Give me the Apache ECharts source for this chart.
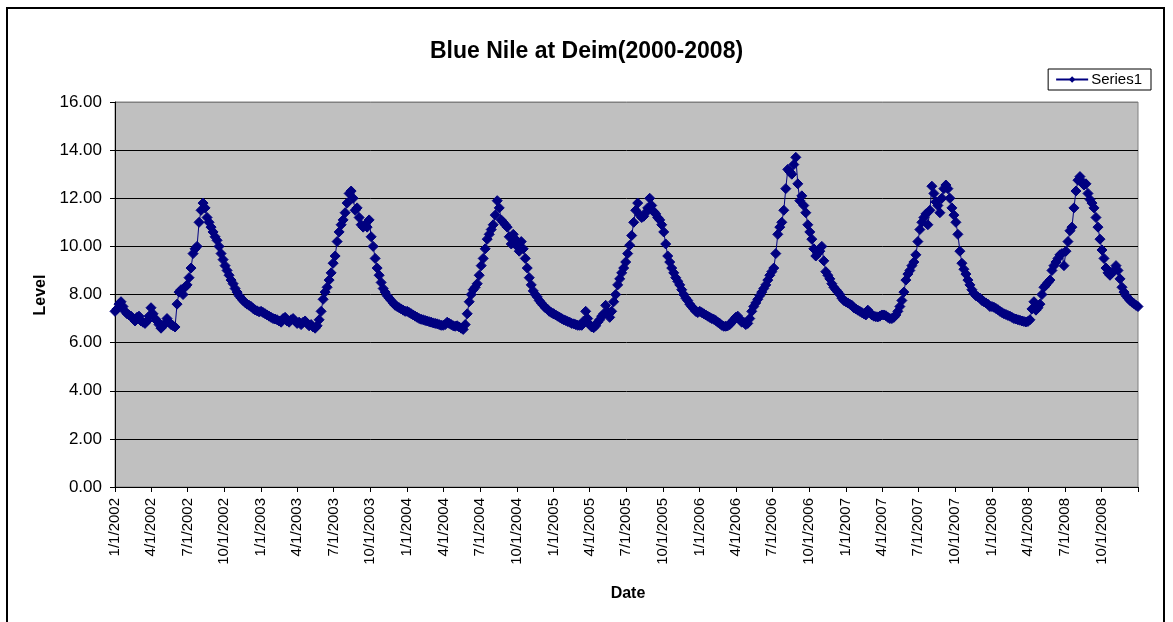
<!DOCTYPE html>
<html><head><meta charset="utf-8">
<script src="https://cdn.jsdelivr.net/npm/echarts@6/dist/echarts.min.js"></script>
<style>html,body{margin:0;padding:0;background:#fff}#c{width:1173px;height:622px}</style>
</head><body><div id="c"></div>
<script>
const chartTitle = 'Blue Nile at Deim(2000-2008)';
const seriesName = 'Series1';
const yAxisName = 'Level';
const xAxisName = 'Date';
const firstDay = [2002, 1, 1];
const lastDay = [2008, 12, 31];
const quarterStarts = ['1/1/', '4/1/', '7/1/', '10/1/'];
const yTicks = [0, 2, 4, 6, 8, 10, 12, 14, 16];
const sampleStepDays = 5; // readings every 5 days, starting on 1 January of each year

const level2002 = [
  7.3, 7.4, 7.6, 7.7, 7.5, 7.3, 7.2, 7.15, 7.1, 7.0,
  6.9, 7.05, 7.1, 6.9, 6.85, 6.8, 6.9, 7.1, 7.45, 7.2,
  7.0, 6.9, 6.75, 6.6, 6.7, 6.8, 7.0, 6.85, 6.75, 6.7,
  6.65, 7.6, 8.1, 8.2, 8.0, 8.3, 8.4, 8.7, 9.1, 9.7,
  9.9, 10.0, 11.0, 11.5, 11.8, 11.6, 11.2, 11.0, 10.8, 10.6,
  10.4, 10.25, 10.0, 9.7, 9.45, 9.2, 9.0, 8.8, 8.6, 8.45,
  8.25, 8.1, 7.95, 7.85, 7.75, 7.67, 7.6, 7.55, 7.5, 7.42,
  7.36, 7.32, 7.28
];
const level2003 = [
  7.3, 7.25, 7.2, 7.15, 7.1, 7.05, 7.0, 6.98, 6.95, 6.9,
  6.85, 7.0, 7.05, 6.9, 6.85, 6.95, 7.0, 6.9, 6.8, 6.85,
  6.75, 6.85, 6.9, 6.8, 6.7, 6.75, 6.65, 6.6, 6.7, 6.95,
  7.3, 7.8, 8.1, 8.3, 8.6, 8.9, 9.3, 9.6, 10.2, 10.6,
  10.9, 11.1, 11.4, 11.8, 12.2, 12.3, 12.0, 11.5, 11.6, 11.2,
  10.9, 10.8, 10.9, 10.8, 11.1, 10.4, 10.0, 9.5, 9.1, 8.8,
  8.5, 8.25, 8.1, 7.95, 7.85, 7.75, 7.65, 7.55, 7.5, 7.45,
  7.4, 7.35, 7.3
];
const level2004 = [
  7.3, 7.25, 7.2, 7.15, 7.1, 7.05, 7.0, 6.97, 6.95, 6.92,
  6.9, 6.87, 6.85, 6.82, 6.8, 6.78, 6.75, 6.72, 6.72, 6.75,
  6.85, 6.8, 6.75, 6.7, 6.68, 6.7, 6.65, 6.6, 6.55, 6.75,
  7.2, 7.7, 8.0, 8.2, 8.3, 8.45, 8.8, 9.2, 9.5, 9.9,
  10.3, 10.5, 10.7, 10.9, 11.3, 11.9, 11.6, 11.1, 11.0, 10.9,
  10.8, 10.4, 10.1, 10.5, 10.3, 10.0, 9.8, 10.2, 9.9, 9.5,
  9.1, 8.7, 8.4, 8.15, 8.0, 7.9, 7.75, 7.65, 7.55, 7.45,
  7.4, 7.3, 7.25, 7.2
];
const level2005 = [
  7.2, 7.15, 7.1, 7.05, 7.0, 6.95, 6.92, 6.88, 6.85, 6.8,
  6.78, 6.75, 6.72, 6.72, 6.72, 6.9, 7.3, 7.0, 6.75, 6.65,
  6.62, 6.7, 6.85, 6.95, 7.1, 7.2, 7.55, 7.3, 7.05, 7.3,
  7.7, 8.0, 8.4, 8.65, 8.9, 9.1, 9.35, 9.7, 10.05, 10.45,
  11.0, 11.5, 11.8, 11.3, 11.2, 11.25, 11.4, 11.6, 12.0, 11.7,
  11.45, 11.35, 11.2, 11.1, 10.9, 10.6, 10.1, 9.6, 9.35, 9.1,
  8.9, 8.7, 8.55, 8.4, 8.2, 8.0, 7.85, 7.75, 7.6, 7.5,
  7.4, 7.3, 7.25
];
const level2006 = [
  7.3, 7.25, 7.2, 7.15, 7.1, 7.05, 7.0, 6.97, 6.92, 6.85,
  6.8, 6.72, 6.68, 6.68, 6.7, 6.75, 6.85, 6.95, 7.05, 7.1,
  6.95, 6.85, 6.85, 6.75, 6.8, 7.0, 7.3, 7.5, 7.65, 7.8,
  7.95, 8.1, 8.25, 8.4, 8.6, 8.8, 8.95, 9.1, 9.7, 10.5,
  10.8, 11.0, 11.5, 12.4, 13.2, 13.1, 13.0, 13.4, 13.7, 12.6,
  11.9, 12.1, 11.7, 11.4, 10.9, 10.6, 10.3, 9.9, 9.6, 9.7,
  9.8, 10.0, 9.4, 8.95, 8.8, 8.65, 8.45, 8.3, 8.2, 8.1,
  8.0, 7.85, 7.75
];
const level2007 = [
  7.7, 7.65, 7.6, 7.55, 7.45, 7.4, 7.35, 7.3, 7.25, 7.2,
  7.15, 7.35, 7.25, 7.15, 7.1, 7.08, 7.07, 7.1, 7.15, 7.15,
  7.12, 7.05, 7.0, 7.0, 7.05, 7.15, 7.3, 7.5, 7.75, 8.1,
  8.6, 8.85, 9.0, 9.2, 9.35, 9.65, 10.2, 10.7, 11.0, 11.2,
  11.35, 10.9, 11.5, 12.5, 12.2, 11.85, 11.7, 11.4, 12.0, 12.4,
  12.55, 12.4, 12.0, 11.6, 11.3, 11.0, 10.5, 9.8, 9.3, 9.05,
  8.85, 8.6, 8.4, 8.2, 8.05, 7.95, 7.9, 7.85, 7.75, 7.7,
  7.65, 7.6, 7.5
];
const level2008 = [
  7.5, 7.47, 7.42, 7.37, 7.3, 7.25, 7.2, 7.17, 7.13, 7.1,
  7.05, 7.0, 6.98, 6.95, 6.93, 6.9, 6.88, 6.86, 6.88, 6.95,
  7.4, 7.7, 7.35, 7.45, 7.6, 8.0, 8.3, 8.4, 8.5, 8.6,
  9.0, 9.2, 9.35, 9.5, 9.65, 9.7, 9.2, 9.8, 10.2, 10.65,
  10.8, 11.6, 12.3, 12.75, 12.9, 12.7, 12.55, 12.6, 12.2, 11.95,
  11.8, 11.6, 11.2, 10.8, 10.3, 9.85, 9.5, 9.1, 8.9, 8.8,
  8.9, 9.0, 9.2, 9.0, 8.65, 8.3, 8.1, 7.95, 7.85, 7.75,
  7.68, 7.62, 7.55, 7.5
];
const levelsByYear = [
  [2002, level2002], [2003, level2003], [2004, level2004], [2005, level2005],
  [2006, level2006], [2007, level2007], [2008, level2008]
];

// daily category axis (M/D/YYYY)
const DAY = 86400000;
const t0 = Date.UTC(firstDay[0], firstDay[1] - 1, firstDay[2]);
const t1 = Date.UTC(lastDay[0], lastDay[1] - 1, lastDay[2]);
const dateLabels = [];
for (let t = t0; t <= t1; t += DAY) {
  const d = new Date(t);
  dateLabels.push((d.getUTCMonth() + 1) + '/' + d.getUTCDate() + '/' + d.getUTCFullYear());
}
const seriesData = [];
levelsByYear.forEach(([yr, vals]) => {
  vals.forEach((v, i) => {
    const t = Date.UTC(yr, 0, 1 + i * sampleStepDays);
    if (t <= t1) seriesData.push([Math.round((t - t0) / DAY), v]);
  });
});
const isQuarter = (idx, val) => quarterStarts.some(q => val.startsWith(q));

const FONT = 'Arial, "Liberation Sans", sans-serif';
const chart = echarts.init(document.getElementById('c'), null, { renderer: 'canvas' });
chart.setOption({
  animation: false,
  backgroundColor: '#fff',
  title: {
    text: chartTitle, left: 'center', top: 35,
    textStyle: { fontFamily: FONT, fontSize: 23, fontWeight: 'bold', color: '#000' }
  },
  legend: {
    right: 22, top: 69,
    data: [seriesName],
    itemWidth: 32, itemHeight: 8, itemGap: 4,
    padding: [3, 9, 3, 7],
    borderColor: '#000', borderWidth: 1,
    textStyle: { fontFamily: FONT, fontSize: 15, color: '#000', padding: [0, 0, 0, -2] }
  },
  grid: {
    left: 115, top: 102, width: 1023, height: 385,
    show: true, backgroundColor: '#C0C0C0', borderColor: '#808080', borderWidth: 1
  },
  xAxis: {
    type: 'category', data: dateLabels, boundaryGap: false,
    axisLine: { lineStyle: { color: '#000', width: 1 } },
    axisTick: { show: true, inside: false, length: 5, lineStyle: { color: '#000' },
      interval: (idx, val) => isQuarter(idx, val) || idx === dateLabels.length - 1 },
    axisLabel: { interval: isQuarter, rotate: 90, margin: 11, color: '#000',
      fontFamily: FONT, fontSize: 15 },
    splitLine: { show: false }
  },
  yAxis: {
    type: 'value', min: yTicks[0], max: yTicks[yTicks.length - 1], interval: yTicks[1] - yTicks[0],
    axisLine: { show: true, lineStyle: { color: '#000', width: 1 } },
    axisTick: { show: true, inside: false, length: 5, lineStyle: { color: '#000' } },
    axisLabel: { margin: 13, color: '#000', fontFamily: FONT, fontSize: 17,
      formatter: v => v.toFixed(2) },
    splitLine: { show: true, lineStyle: { color: ['#000', '#000', '#000', '#000', '#000', '#000', '#000', '#000', '#808080'], width: 1 } }
  },
  graphic: [
    { type: 'rect', shape: { x: 7, y: 8, width: 1157, height: 700 },
      style: { fill: 'none', stroke: '#000', lineWidth: 2 }, silent: true, z: -1 },
    { type: 'text', x: 41, y: 295, rotation: Math.PI / 2,
      style: { text: yAxisName, font: 'bold 16px ' + FONT, fill: '#000', align: 'center', verticalAlign: 'middle' } },
    { type: 'text', x: 628, y: 594,
      style: { text: xAxisName, font: 'bold 16px ' + FONT, fill: '#000', align: 'center', verticalAlign: 'middle' } }
  ],
  series: [{
    name: seriesName, type: 'line', data: seriesData,
    symbol: 'diamond', symbolSize: 10, showSymbol: true, showAllSymbol: true,
    itemStyle: { color: '#000080', borderColor: '#000080' },
    lineStyle: { color: '#000080', width: 1 },
    emphasis: { disabled: true }
  }]
});
</script></body></html>
